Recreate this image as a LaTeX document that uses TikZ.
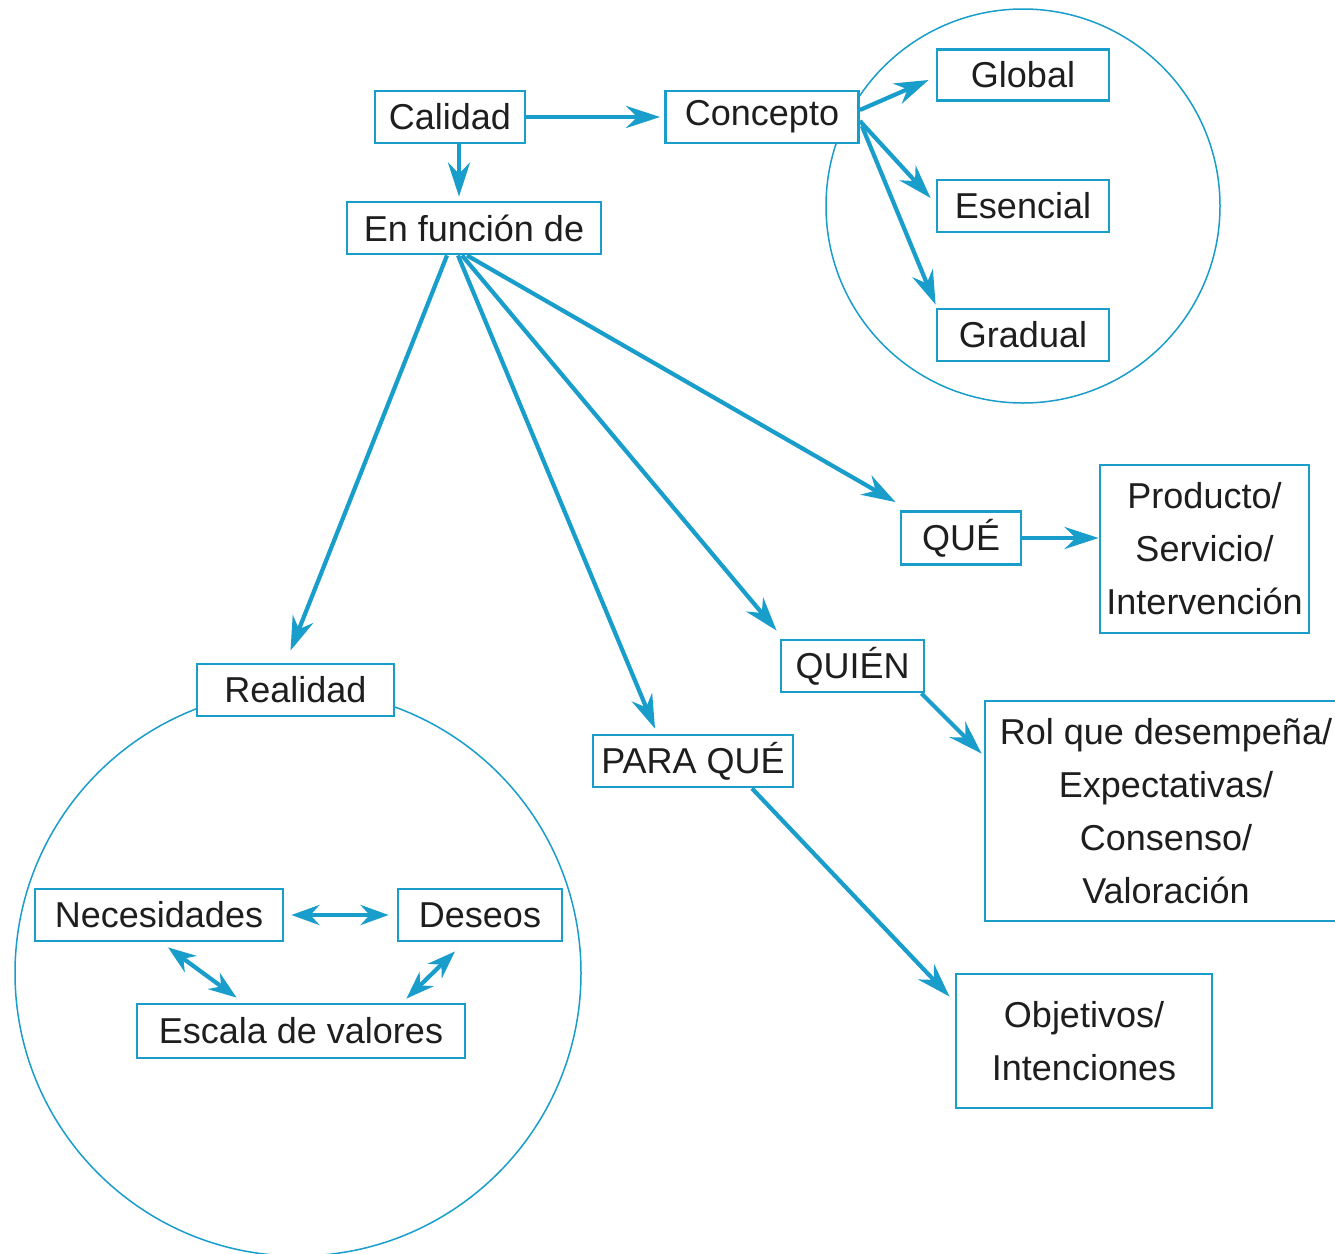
\documentclass[tikz,border=0pt]{standalone}
\usepackage{fontspec}
\setmainfont{Liberation Sans}
\usetikzlibrary{arrows.meta}
\definecolor{cblue}{RGB}{25,158,204}
\definecolor{ctext}{RGB}{30,30,30}
\tikzset{
  box/.style={draw=cblue, line width=2.8pt, fill=white, inner sep=0pt, align=center,
    text=ctext, font=\fontsize{36}{53}\selectfont},
  arr/.style={draw=cblue, line width=4.2pt, -{Stealth[length=34pt,width=22pt,inset=11pt]}},
  darr/.style={draw=cblue, line width=4.2pt, {Stealth[length=28pt,width=20pt,inset=9pt]}-{Stealth[length=28pt,width=20pt,inset=9pt]}},
  ring/.style={draw=cblue, line width=1.5pt, circle, inner sep=0pt}
}
\begin{document}
\begin{tikzpicture}[x=1pt,y=-1pt]
\useasboundingbox[fill=white] (0,0) rectangle (1335,1253);
% circles
\node[ring, minimum size=394pt] (c1) at (1023,206) {};
\node[ring, minimum size=566pt] (c2) at (298,973) {};
% boxes
\node[box, minimum width=150pt, minimum height=52pt] (cal) at (450,117) {Calidad};
\node[box, minimum width=193pt, minimum height=52pt] (con) at (762,117) {Concepto};
\node[box, minimum width=254pt, minimum height=52pt] (fun) at (474,228) {En función de};
\node[box, minimum width=172pt, minimum height=51pt] (glo) at (1023,75) {Global};
\node[box, minimum width=172pt, minimum height=52pt] (ese) at (1023,206) {Esencial};
\node[box, minimum width=172pt, minimum height=52pt] (gra) at (1023,335) {Gradual};
\node[box, minimum width=120pt, minimum height=53pt] (que) at (961,538) {QUÉ};
\node[box, minimum width=209pt, minimum height=168pt] (prod) at (1204.5,549) {Producto/\\Servicio/\\Intervención};
\node[box, minimum width=143pt, minimum height=52pt] (quien) at (852.5,666) {QUIÉN};
\node[box, minimum width=362pt, minimum height=220pt] (rol) at (1166,811) {Rol que desempeña/\\Expectativas/\\Consenso/\\Valoración};
\node[box, minimum width=200pt, minimum height=52pt] (para) at (693,761) {PARA QUÉ};
\node[box, minimum width=256pt, minimum height=134pt] (obj) at (1084,1041) {Objetivos/\\Intenciones};
\node[box, minimum width=197pt, minimum height=52pt] (real) at (295.5,690) {Realidad};
\node[box, minimum width=248pt, minimum height=52pt] (nec) at (159,915) {Necesidades};
\node[box, minimum width=164pt, minimum height=52pt] (des) at (480,915) {Deseos};
\node[box, minimum width=328pt, minimum height=54pt] (esc) at (301,1031) {Escala de valores};
% connectors
\draw[arr] (cal.east) -- ([xshift=-4pt]con.west);
\draw[arr] ([xshift=9pt]cal.south) -- ([xshift=9pt,yshift=4pt]cal.south |- fun.north);
\draw[arr] ([yshift=7pt]con.east) -- ([shift={(-7pt,-5pt)}]glo.west);
\draw[arr] ([yshift=-4pt]con.east) -- ([shift={(-5pt,8pt)}]ese.west);
\draw[arr] ([shift={(2pt,-9pt)}]con.east) -- ([shift={(0pt,3pt)}]gra.north west);
\draw[arr] ([xshift=-27pt]fun.south) -- ([shift={(-5pt,12pt)}]real.north);
\draw[arr] ([xshift=-16pt]fun.south) -- ([shift={(-38pt,5pt)}]para.north);
\draw[arr] ([xshift=-12pt]fun.south) -- ([shift={(-3pt,8pt)}]quien.north west);
\draw[arr] ([xshift=-7pt]fun.south) -- ([shift={(-4pt,8pt)}]que.north west);
\draw[arr] (que.east) -- (prod.west |- que.east);
\draw[arr] ([xshift=-4pt]quien.south east) -- ([shift={(-2pt,-54pt)}]rol.north west);
\draw[arr] ([xshift=59pt]para.south) -- ([shift={(-5pt,-24pt)}]obj.north west);
\draw[darr] ([xshift=7pt]nec.east) -- ([xshift=-8pt]des.west);
\draw[darr] ([shift={(9pt,-5pt)}]nec.south) -- ([shift={(101pt,5pt)}]esc.north west);
\draw[darr] ([shift={(-25pt,-9pt)}]des.south) -- ([shift={(-60pt,4pt)}]esc.north east);
\end{tikzpicture}
\end{document}
